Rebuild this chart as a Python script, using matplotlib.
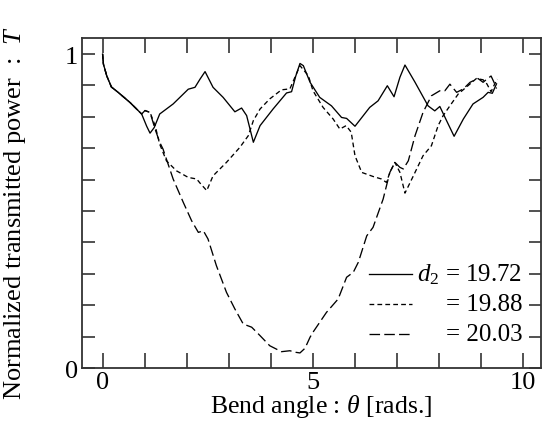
import matplotlib
matplotlib.use('Agg')
import matplotlib.pyplot as plt
from matplotlib.ticker import MultipleLocator, FixedLocator

plt.rcParams['font.family'] = ['Liberation Serif', 'DejaVu Serif']
plt.rcParams['mathtext.fontset'] = 'custom'
plt.rcParams['mathtext.rm'] = 'Liberation Serif'
plt.rcParams['mathtext.it'] = 'Liberation Serif:italic'

# d2 = 19.72 (solid)
theta_a = [0, 0.02, 0.1, 0.21, 0.37, 0.65, 0.93, 1.05, 1.13, 1.23, 1.36, 1.68, 2.04, 2.20, 2.32,
           2.44, 2.63, 2.87, 3.15, 3.31, 3.43, 3.59, 3.75, 4.06, 4.38, 4.50, 4.60, 4.70, 4.78,
           4.94, 5.17, 5.45, 5.69, 5.81, 6.01, 6.36, 6.56, 6.78, 6.94, 7.08, 7.20, 7.44, 7.75,
           7.91, 8.03, 8.19, 8.37, 8.59, 8.82, 9.06, 9.18, 9.28, 9.38]
T_a = [1.0, 0.968, 0.93, 0.895, 0.878, 0.846, 0.809, 0.77, 0.748, 0.766, 0.809, 0.841, 0.888,
       0.894, 0.92, 0.944, 0.894, 0.862, 0.816, 0.828, 0.804, 0.719, 0.772, 0.825, 0.876, 0.880,
       0.93, 0.970, 0.963, 0.910, 0.862, 0.835, 0.798, 0.795, 0.770, 0.830, 0.851, 0.899, 0.864,
       0.926, 0.965, 0.910, 0.835, 0.819, 0.833, 0.788, 0.738, 0.793, 0.841, 0.862, 0.878,
       0.875, 0.905]

# d2 = 19.88 (short dashes)
theta_b = [0, 0.02, 0.1, 0.21, 0.37, 0.65, 0.93, 1.01, 1.13, 1.25, 1.36, 1.52, 1.76, 2.04, 2.24,
           2.32, 2.48, 2.63, 2.95, 3.27, 3.47, 3.59, 3.75, 3.98, 4.26, 4.46, 4.70, 4.90, 5.01,
           5.25, 5.49, 5.65, 5.80, 5.92, 6.01, 6.17, 6.44, 6.64, 6.76, 6.84, 6.96, 7.08, 7.20,
           7.40, 7.63, 7.83, 7.99, 8.11, 8.27, 8.47, 8.70, 8.90, 9.06, 9.15, 9.25, 9.32, 9.40]
T_b = [1.0, 0.968, 0.93, 0.895, 0.878, 0.846, 0.809, 0.820, 0.814, 0.772, 0.713, 0.660, 0.628,
       0.607, 0.602, 0.589, 0.565, 0.612, 0.655, 0.703, 0.740, 0.788, 0.825, 0.857, 0.886,
       0.889, 0.963, 0.931, 0.883, 0.830, 0.793, 0.761, 0.772, 0.751, 0.676, 0.623, 0.610,
       0.602, 0.591, 0.623, 0.655, 0.623, 0.557, 0.612, 0.676, 0.708, 0.772, 0.804, 0.835,
       0.873, 0.899, 0.922, 0.918, 0.905, 0.88, 0.90, 0.92]

# d2 = 20.03 (long dashes)
theta_c = [0, 0.02, 0.1, 0.21, 0.37, 0.65, 0.93, 1.01, 1.13, 1.25, 1.36, 1.44, 1.68, 1.92, 2.12,
           2.28, 2.40, 2.51, 2.71, 2.95, 3.15, 3.35, 3.55, 3.75, 3.98, 4.26, 4.46, 4.60, 4.70,
           4.82, 4.94, 5.01, 5.33, 5.61, 5.81, 5.97, 6.09, 6.29, 6.44, 6.68, 6.84, 6.96, 7.08,
           7.16, 7.28, 7.44, 7.63, 7.83, 8.03, 8.15, 8.27, 8.43, 8.59, 8.75, 8.94, 9.06, 9.15,
           9.25, 9.32, 9.38]
T_c = [1.0, 0.968, 0.93, 0.895, 0.878, 0.846, 0.809, 0.820, 0.814, 0.761, 0.719, 0.697, 0.602,
       0.528, 0.469, 0.432, 0.437, 0.411, 0.326, 0.241, 0.188, 0.140, 0.130, 0.103, 0.071,
       0.052, 0.055, 0.05, 0.048, 0.063, 0.098, 0.114, 0.177, 0.220, 0.289, 0.305, 0.337,
       0.421, 0.448, 0.538, 0.623, 0.655, 0.639, 0.634, 0.660, 0.740, 0.814, 0.867, 0.883,
       0.883, 0.904, 0.878, 0.889, 0.910, 0.922, 0.910, 0.92, 0.93, 0.91, 0.89]

labels = [r'$d_2$ = 19.72', '= 19.88', '= 20.03']
dashes = [None, (3.6, 2.4), (8, 3.2)]

fig = plt.figure(figsize=(5.42, 4.35), dpi=100)
ax = fig.add_axes([0.1513, 0.1517, 0.8477, 0.7586])

for th, T, ds in zip([theta_a, theta_b, theta_c], [T_a, T_b, T_c], dashes):
    line, = ax.plot(th, T, color='black', lw=0.95)
    if ds is not None:
        line.set_dashes(ds)

ax.set_xlim(-0.49, 10.45)
ax.set_ylim(0, 1.051)

ax.xaxis.set_major_locator(FixedLocator([0, 5, 10]))
ax.xaxis.set_minor_locator(MultipleLocator(1))
ax.yaxis.set_major_locator(FixedLocator([0, 1]))
ax.yaxis.set_minor_locator(MultipleLocator(0.1))
ax.tick_params(which='both', direction='in', top=True, right=True, width=1.1, color='#222222')
ax.tick_params(axis='x', which='both', length=11)
ax.tick_params(axis='y', which='both', length=9)
ax.tick_params(axis='x', labelsize=19, pad=2)
ax.tick_params(axis='y', labelsize=19, pad=3)
for sp in ax.spines.values():
    sp.set_linewidth(1.3)
    sp.set_color('#333333')

ax.set_xlabel(r'Bend angle : $\theta$ [rads.]', fontsize=18.5)
ax.set_ylabel(r'Normalized transmitted power  :  $T$', fontsize=19)
ax.xaxis.set_label_coords(0.52, -0.072)
ax.yaxis.set_label_coords(-0.118, 0.474)

# hand-placed legend in the lower right
for i, (lab, ds) in enumerate(zip(labels, dashes)):
    yy = 0.285 - i * 0.091
    line, = ax.plot([0.625, 0.7175], [yy, yy], transform=ax.transAxes, color='black', lw=0.95)
    if ds is not None:
        line.set_dashes(ds)
    ax.text(0.958, yy, lab, transform=ax.transAxes, ha='right', va='center', fontsize=18)

fig.savefig('out.png', dpi=100)
